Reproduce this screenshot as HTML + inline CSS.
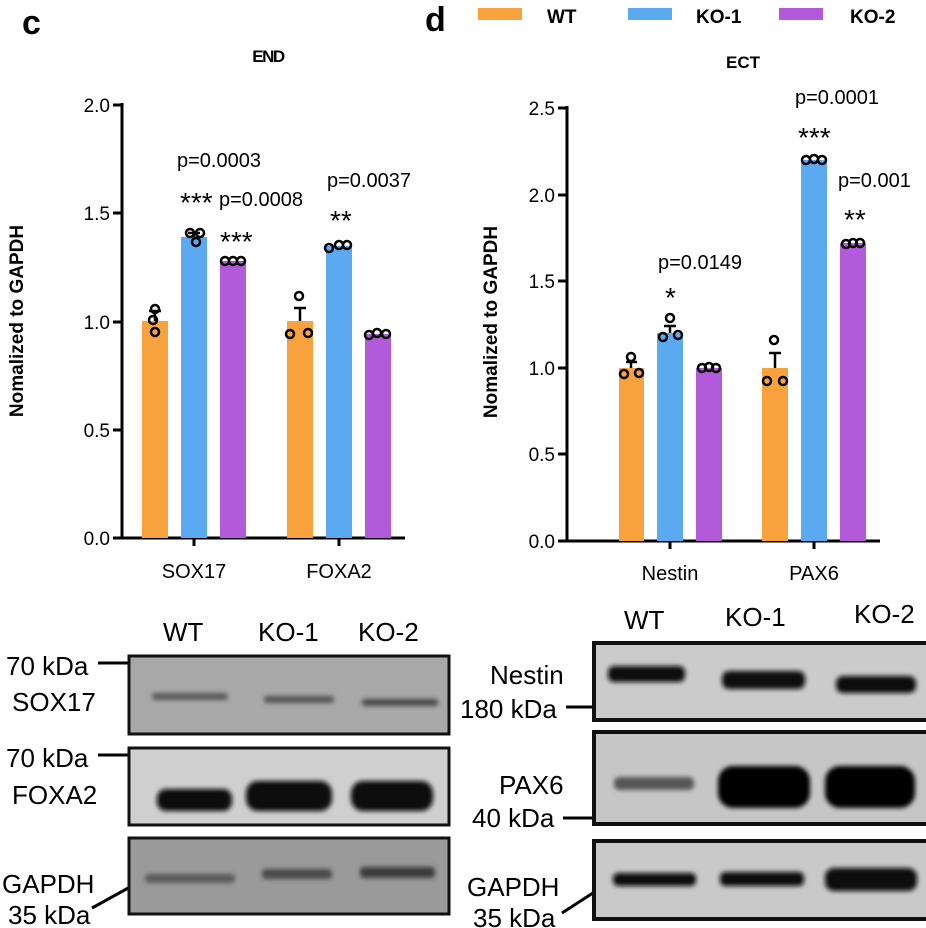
<!DOCTYPE html>
<html><head><meta charset="utf-8"><style>
html,body{margin:0;padding:0;background:#fff}
svg{display:block}
text{font-family:"Liberation Sans",Arial,sans-serif;fill:#000}
</style></head><body>
<svg width="926" height="928" viewBox="0 0 926 928" xmlns="http://www.w3.org/2000/svg">
<defs>
<filter id="b2" x="-20%" y="-100%" width="140%" height="300%"><feGaussianBlur stdDeviation="2.5"/></filter>
</defs>
<text x="22" y="34" font-size="34" font-weight="bold">c</text>
<text x="425" y="31" font-size="34" font-weight="bold">d</text>
<rect x="478" y="8" width="44" height="12" fill="#F7A23C"/><text x="547" y="23" font-size="19" font-weight="bold">WT</text>
<rect x="628" y="8" width="44" height="12" fill="#5BA9F0"/><text x="696" y="23" font-size="19" font-weight="bold">KO-1</text>
<rect x="779" y="8" width="44" height="12" fill="#B25AD9"/><text x="850" y="23" font-size="19" font-weight="bold">KO-2</text>

<!-- chart c -->
<text x="268" y="62" font-size="17" font-weight="bold" text-anchor="middle" letter-spacing="-1.5">END</text>
<g stroke="#000" stroke-width="3" fill="none">
<path d="M122 103V538H405"/>
<path d="M113 105H122M113 213H122M113 322H122M113 430H122M113 538H122"/>
<path d="M194 538v8M339 538v8"/>
</g>
<g font-size="19" text-anchor="end">
<text x="110" y="112">2.0</text><text x="110" y="220">1.5</text><text x="110" y="329">1.0</text><text x="110" y="437">0.5</text><text x="110" y="545">0.0</text>
</g>
<text font-size="19" font-weight="bold" text-anchor="middle" transform="translate(23,321) rotate(-90)">Nomalized to GAPDH</text>
<g font-size="20" text-anchor="middle"><text x="194" y="578">SOX17</text><text x="339" y="578">FOXA2</text></g>
<rect x="142" y="321" width="26" height="217" fill="#F7A23C"/>
<rect x="181" y="237" width="26" height="301" fill="#5BA9F0"/>
<rect x="220" y="261" width="26" height="277" fill="#B25AD9"/>
<rect x="287" y="321" width="26" height="217" fill="#F7A23C"/>
<rect x="326" y="246" width="26" height="292" fill="#5BA9F0"/>
<rect x="365" y="334" width="26" height="204" fill="#B25AD9"/>
<g stroke="#000" stroke-width="2.5" fill="none">
<path d="M155 321v-10M149 311h12M194 237v-4M188 233h12M300 321v-13M294 308h12"/>
<circle cx="155" cy="309" r="4"/><circle cx="153" cy="320" r="4"/><circle cx="155" cy="332" r="4"/>
<circle cx="190" cy="233" r="4"/><circle cx="200" cy="233" r="4"/><circle cx="196" cy="242" r="4"/>
<circle cx="225" cy="261" r="4"/><circle cx="233" cy="261" r="4"/><circle cx="241" cy="261" r="4"/>
<circle cx="299" cy="296" r="4"/><circle cx="290" cy="334" r="4"/><circle cx="308" cy="333" r="4"/>
<circle cx="329" cy="248" r="4"/><circle cx="339" cy="245" r="4"/><circle cx="347" cy="245" r="4"/>
<circle cx="369" cy="335" r="4"/><circle cx="377" cy="333" r="4"/><circle cx="386" cy="334" r="4"/>
</g>
<g font-size="20">
<text x="177" y="167">p=0.0003</text><text x="219" y="206">p=0.0008</text><text x="327" y="187">p=0.0037</text>
</g>
<g font-size="28">
<text x="180" y="212">***</text><text x="220" y="251">***</text><text x="330" y="230">**</text>
</g>

<!-- chart d -->
<text x="743" y="68" font-size="17" font-weight="bold" text-anchor="middle">ECT</text>
<g stroke="#000" stroke-width="3" fill="none">
<path d="M567 106V541H880"/>
<path d="M558 108H567M558 195H567M558 281H567M558 368H567M558 454H567M558 541H567"/>
<path d="M670 541v8M814 541v8"/>
</g>
<g font-size="19" text-anchor="end">
<text x="555" y="115">2.5</text><text x="555" y="202">2.0</text><text x="555" y="288">1.5</text><text x="555" y="375">1.0</text><text x="555" y="461">0.5</text><text x="555" y="548">0.0</text>
</g>
<text font-size="19" font-weight="bold" text-anchor="middle" transform="translate(497,322) rotate(-90)">Nomalized to GAPDH</text>
<g font-size="20" text-anchor="middle"><text x="670" y="580">Nestin</text><text x="814" y="580">PAX6</text></g>
<rect x="619" y="368" width="25" height="173" fill="#F7A23C"/>
<rect x="657" y="333" width="26" height="208" fill="#5BA9F0"/>
<rect x="696" y="368" width="26" height="173" fill="#B25AD9"/>
<rect x="762" y="368" width="26" height="173" fill="#F7A23C"/>
<rect x="801" y="160" width="26" height="381" fill="#5BA9F0"/>
<rect x="840" y="243" width="26" height="298" fill="#B25AD9"/>
<g stroke="#000" stroke-width="2.5" fill="none">
<path d="M631 368v-6M626 362h11M670 333v-7M664 326h12M775 368v-15M769 353h12"/>
<circle cx="631" cy="357" r="4"/><circle cx="624" cy="374" r="4"/><circle cx="639" cy="373" r="4"/>
<circle cx="670" cy="318" r="4"/><circle cx="663" cy="337" r="4"/><circle cx="678" cy="335" r="4"/>
<circle cx="702" cy="368" r="4"/><circle cx="709" cy="367" r="4"/><circle cx="716" cy="368" r="4"/>
<circle cx="774" cy="340" r="4"/><circle cx="767" cy="381" r="4"/><circle cx="783" cy="381" r="4"/>
<circle cx="806" cy="160" r="4"/><circle cx="814" cy="159" r="4"/><circle cx="822" cy="160" r="4"/>
<circle cx="846" cy="244" r="4"/><circle cx="853" cy="243" r="4"/><circle cx="860" cy="243" r="4"/>
</g>
<g font-size="20">
<text x="795" y="104">p=0.0001</text><text x="838" y="187">p=0.001</text><text x="658" y="269">p=0.0149</text>
</g>
<g font-size="28">
<text x="798" y="147">***</text><text x="844" y="229">**</text><text x="665" y="307">*</text>
</g>

<!-- blots left -->
<g font-size="26">
<text x="163" y="641">WT</text><text x="258" y="641">KO-1</text><text x="358" y="641">KO-2</text>
<text x="6" y="675">70 kDa</text><text x="12" y="711">SOX17</text>
<text x="6" y="767">70 kDa</text><text x="12" y="804">FOXA2</text>
<text x="2" y="893">GAPDH</text><text x="8" y="924">35 kDa</text>
</g>
<g stroke="#000" stroke-width="3" fill="none"><path d="M98 663H128M98 755H128M92 908L130 887"/></g>
<rect x="129" y="656" width="320" height="78" fill="#a8a8a8" stroke="#111" stroke-width="3"/>
<rect x="129" y="748" width="320" height="77" fill="#cfcfcf" stroke="#111" stroke-width="3"/>
<rect x="129" y="838" width="320" height="76" fill="#9a9a9a" stroke="#111" stroke-width="3"/>
<g filter="url(#b2)">
<rect x="152" y="693" width="76" height="7" rx="3" fill="#5a5a5a"/>
<rect x="264" y="696" width="70" height="7" rx="3" fill="#555"/>
<rect x="362" y="699" width="76" height="7" rx="3" fill="#4a4a4a"/>
<rect x="157" y="789" width="75" height="22" rx="9" fill="#111"/>
<rect x="246" y="781" width="86" height="30" rx="12" fill="#0a0a0a"/>
<rect x="351" y="781" width="82" height="30" rx="12" fill="#0a0a0a"/>
<rect x="145" y="874" width="90" height="9" rx="4" fill="#5a5a5a"/>
<rect x="262" y="869" width="70" height="10" rx="4" fill="#4a4a4a"/>
<rect x="360" y="867" width="75" height="11" rx="4" fill="#3a3a3a"/>
</g>

<!-- blots right -->
<g font-size="26">
<text x="624" y="629">WT</text><text x="725" y="626">KO-1</text><text x="854" y="623">KO-2</text>
<text x="490" y="684">Nestin</text><text x="460" y="718">180 kDa</text>
<text x="499" y="794">PAX6</text><text x="472" y="827">40 kDa</text>
<text x="467" y="896">GAPDH</text><text x="473" y="927">35 kDa</text>
</g>
<g stroke="#000" stroke-width="3" fill="none"><path d="M566 707H594M563 818H594M562 913L596 891"/></g>
<rect x="594" y="643" width="334" height="77" fill="#cbcbcb" stroke="#111" stroke-width="4"/>
<rect x="594" y="732" width="334" height="92" fill="#c6c6c6" stroke="#111" stroke-width="4"/>
<rect x="594" y="841" width="334" height="78" fill="#c9c9c9" stroke="#111" stroke-width="4"/>
<g filter="url(#b2)">
<rect x="608" y="666" width="77" height="16" rx="6" fill="#111"/>
<rect x="722" y="671" width="83" height="18" rx="7" fill="#0c0c0c"/>
<rect x="836" y="676" width="80" height="17" rx="7" fill="#0c0c0c"/>
<rect x="614" y="777" width="80" height="13" rx="5" fill="#555"/>
<rect x="718" y="766" width="92" height="42" rx="15" fill="#050505"/>
<rect x="825" y="766" width="90" height="42" rx="15" fill="#050505"/>
<rect x="613" y="873" width="83" height="13" rx="5" fill="#111"/>
<rect x="720" y="872" width="84" height="14" rx="5" fill="#111"/>
<rect x="825" y="868" width="92" height="23" rx="9" fill="#080808"/>
</g>
</svg>
</body></html>
